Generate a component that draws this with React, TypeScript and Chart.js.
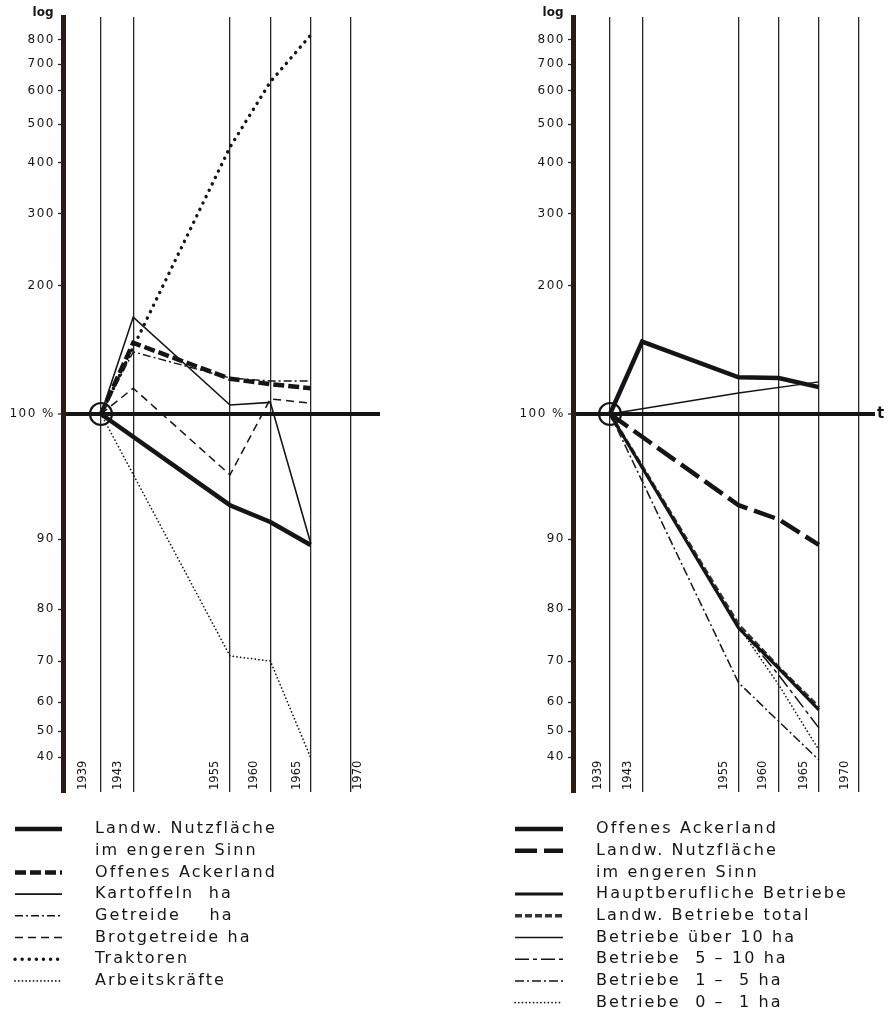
import React, { useEffect, useRef } from 'react';
import { Chart, registerables } from 'chart.js';

Chart.register(...registerables);

// ---------------- data ----------------
const YEARS = [1939, 1943, 1955, 1960, 1965];
const GRID_YEARS = [1939, 1943, 1955, 1960, 1965, 1970];
const GRID_YEAR_LABELS = ['1939', '1943', '1955', '1960', '1965', '1970'];

// hand-drawn index axis: tick values and their axis position (units above the 100 % line)
const Y_TICKS = [40, 50, 60, 70, 80, 90, 100, 200, 300, 400, 500, 600, 700, 800];
const Y_TICK_LABELS = ['40', '50', '60', '70', '80', '90', '100 %', '200', '300', '400', '500', '600', '700', '800'];
const Y_TICK_POS = [-343, -317, -288, -247, -195, -125, 0, 128, 200, 251, 290, 323, 350, 374];

// left panel (index 1939 = 100)
const L_NUTZFLAECHE = [100, null, 92.6, 91.3, 89.1];
const L_ACKERLAND = [100, 147, 121, 117.5, 115];
const L_KARTOFFELN = [100, 169, 105, 106.5, 89.4];
const L_GETREIDE = [100, 140, 121.5, 119.6, 119.6];
const L_BROTGETREIDE = [100, 115, 95, 108.5, 106];
const L_TRAKTOREN = [100, null, 438, 632, 822];
const L_ARBEITSKRAEFTE = [100, null, 70.9, 70, 39.8];

// right panel (index 1939 = 100)
const R_ACKERLAND = [100, 148, 122, 121.5, 115.7];
const R_NUTZFLAECHE = [100, null, 92.6, 91.5, 89.1];
const R_HAUPTBERUF = [100, null, 76.2, 68.1, 57.1];
const R_TOTAL = [100, null, 76.8, 68.3, 58.0];
const R_UEBER10 = [100, null, 112, null, 119];
const R_5_10 = [100, null, 76.5, 66.4, 51];
const R_1_5 = [100, null, 64.5, null, 39];
const R_0_1 = [100, null, 76.5, 64, 42.5];

// ---------------- helpers ----------------
const INK = '#151515';
const AXIS = '#2a1b14';
const GRID = '#2e241f';
const FONT = '"DejaVu Sans", Verdana, sans-serif';

function toU(v: number): number {
  const n = Y_TICKS.length;
  let i = 0;
  if (v <= Y_TICKS[0]) i = 0;
  else if (v >= Y_TICKS[n - 1]) i = n - 2;
  else {
    while (i < n - 2 && v > Y_TICKS[i + 1]) i++;
  }
  const a = Y_TICKS[i];
  const b = Y_TICKS[i + 1];
  const t = Math.log(v / a) / Math.log(b / a);
  return Y_TICK_POS[i] + t * (Y_TICK_POS[i + 1] - Y_TICK_POS[i]);
}

type Series = {
  lines: string[];
  data: (number | null)[];
  width: number;
  dash: number[];
  cap?: string;
  color?: string;
};

const LEFT_SERIES: Series[] = [
  { lines: ['Landw. Nutzfläche', 'im engeren Sinn'], data: L_NUTZFLAECHE, width: 4.5, dash: [] },
  { lines: ['Offenes Ackerland'], data: L_ACKERLAND, width: 4.5, dash: [11, 4] },
  { lines: ['Kartoffeln  ha'], data: L_KARTOFFELN, width: 1.6, dash: [] },
  { lines: ['Getreide    ha'], data: L_GETREIDE, width: 1.4, dash: [8, 3, 2, 3] },
  { lines: ['Brotgetreide ha'], data: L_BROTGETREIDE, width: 1.5, dash: [8, 5] },
  { lines: ['Traktoren'], data: L_TRAKTOREN, width: 3.4, dash: [0.1, 7], cap: 'round' },
  { lines: ['Arbeitskräfte'], data: L_ARBEITSKRAEFTE, width: 1.7, dash: [0.1, 3.6], cap: 'round' },
];

const RIGHT_SERIES: Series[] = [
  { lines: ['Offenes Ackerland'], data: R_ACKERLAND, width: 4.5, dash: [] },
  { lines: ['Landw. Nutzfläche', 'im engeren Sinn'], data: R_NUTZFLAECHE, width: 4.5, dash: [22, 7] },
  { lines: ['Hauptberufliche Betriebe'], data: R_HAUPTBERUF, width: 3, dash: [] },
  { lines: ['Landw. Betriebe total'], data: R_TOTAL, width: 3.5, dash: [7, 3], color: '#333333' },
  { lines: ['Betriebe über 10 ha'], data: R_UEBER10, width: 1.5, dash: [] },
  { lines: ['Betriebe  5 \u2013 10 ha'], data: R_5_10, width: 1.5, dash: [14, 4, 4, 4] },
  { lines: ['Betriebe  1 \u2013  5 ha'], data: R_1_5, width: 1.5, dash: [9, 3, 2, 3] },
  { lines: ['Betriebe  0 \u2013  1 ha'], data: R_0_1, width: 1.7, dash: [0.1, 3.6], cap: 'round' },
];

const decorPlugin = {
  id: 'decor',
  beforeDraw(chart: any) {
    chart.ctx.letterSpacing = '1.5px';
  },
  afterDraw(chart: any, _args: any, opts: any) {
    const ctx = chart.ctx;
    const area = chart.chartArea;
    const xs = chart.scales.x;
    ctx.save();
    ctx.fillStyle = INK;
    // year labels, rotated, inside the plot at the bottom
    ctx.font = '11.5px ' + FONT;
    ctx.letterSpacing = '0px';
    GRID_YEARS.forEach((yr, i) => {
      const px = xs.getPixelForValue(yr) + opts.yearOffsets[i];
      ctx.save();
      ctx.translate(px, area.bottom - 2);
      ctx.rotate(-Math.PI / 2);
      ctx.textAlign = 'left';
      ctx.textBaseline = 'middle';
      ctx.fillText(GRID_YEAR_LABELS[i], 0, 0);
      ctx.restore();
    });
    // "log" above the axis
    ctx.font = 'bold 12px ' + FONT;
    ctx.textAlign = 'center';
    ctx.textBaseline = 'middle';
    ctx.fillText('log', area.left - 20, 13);
    if (opts.showT) {
      ctx.font = 'bold 15px ' + FONT;
      ctx.textAlign = 'left';
      ctx.fillText('t', area.right + 2, chart.scales.y.getPixelForValue(toU(100)));
    }
    // legend built from the datasets
    const lg = opts.legend;
    let row = 0;
    chart.data.datasets.forEach((ds: any) => {
      if (!ds.legendLines) return;
      const y = lg.top + row * lg.step;
      ctx.save();
      ctx.strokeStyle = ds.borderColor;
      ctx.lineWidth = ds.borderWidth;
      ctx.lineCap = ds.borderCapStyle || 'butt';
      ctx.setLineDash(ds.borderDash || []);
      ctx.beginPath();
      ctx.moveTo(lg.x0, y);
      ctx.lineTo(lg.x1, y);
      ctx.stroke();
      ctx.restore();
      ctx.font = '16px ' + FONT;
      ctx.letterSpacing = '2.1px';
      ctx.textAlign = 'left';
      ctx.textBaseline = 'middle';
      ds.legendLines.forEach((t: string, k: number) => {
        ctx.fillText(t, lg.tx, y + k * lg.step);
      });
      row += ds.legendLines.length;
    });
    ctx.restore();
  },
};

type PanelCfg = {
  series: Series[];
  xMin: number;
  xMax: number;
  axisWidth: number;
  padRight: number;
  yearOffsets: number[];
  showT: boolean;
  legend: { top: number; step: number; x0: number; x1: number; tx: number };
};

function buildConfig(p: PanelCfg): any {
  const datasets: any[] = p.series.map((s) => ({
    label: s.lines.join(' '),
    legendLines: s.lines,
    data: YEARS.map((x, i) => ({ x, y: s.data[i] == null ? null : toU(s.data[i] as number) })),
    borderColor: s.color || INK,
    borderWidth: s.width,
    borderDash: s.dash,
    borderCapStyle: s.cap || 'butt',
    borderJoinStyle: 'miter',
    pointRadius: 0,
    spanGaps: true,
    tension: 0,
    fill: false,
  }));
  datasets.push({
    label: 'origin',
    data: [{ x: YEARS[0], y: toU(100) }],
    showLine: false,
    pointRadius: 11,
    pointBorderWidth: 2.2,
    pointBorderColor: INK,
    pointBackgroundColor: 'rgba(0,0,0,0)',
  });
  return {
    type: 'line',
    data: { datasets },
    options: {
      responsive: false,
      animation: false,
      devicePixelRatio: 1,
      events: [],
      layout: { padding: { top: 17, bottom: 230, left: 0, right: p.padRight } },
      plugins: {
        legend: { display: false },
        tooltip: { enabled: false },
        decor: { yearOffsets: p.yearOffsets, showT: p.showT, legend: p.legend },
      },
      scales: {
        x: {
          type: 'linear',
          min: p.xMin,
          max: p.xMax,
          afterBuildTicks: (s: any) => {
            s.ticks = GRID_YEARS.map((v) => ({ value: v }));
          },
          afterFit: (s: any) => {
            s.height = 0;
          },
          ticks: { display: false },
          grid: { color: GRID, lineWidth: 1.3, drawTicks: false },
          border: { display: false },
        },
        y: {
          type: 'linear',
          min: -378,
          max: 397,
          afterBuildTicks: (s: any) => {
            s.ticks = Y_TICKS.map((v) => ({ value: toU(v) }));
          },
          afterFit: (s: any) => {
            s.width = p.axisWidth;
          },
          ticks: {
            autoSkip: false,
            padding: 3,
            color: INK,
            font: { family: FONT, size: 12 },
            callback: (_v: any, i: number) => Y_TICK_LABELS[i],
          },
          grid: {
            color: (c: any) => (c.tick && Math.abs(c.tick.value) < 0.01 ? INK : 'rgba(0,0,0,0)'),
            lineWidth: (c: any) => (c.tick && Math.abs(c.tick.value) < 0.01 ? 4 : 1),
            drawTicks: true,
            tickLength: 5,
            tickColor: '#222',
            tickWidth: 1.3,
          },
          border: { display: true, color: AXIS, width: 5 },
        },
      },
    },
    plugins: [decorPlugin],
  };
}

const LEFT_CFG: PanelCfg = {
  series: LEFT_SERIES,
  xMin: 1934.29,
  xMax: 1973.6,
  axisWidth: 63,
  padRight: 65,
  yearOffsets: [-18, -15, -15, -16, -14, 7],
  showT: false,
  legend: { top: 829, step: 21.7, x0: 15, x1: 62, tx: 95 },
};

const RIGHT_CFG: PanelCfg = {
  series: RIGHT_SERIES,
  xMin: 1934.39,
  xMax: 1971.99,
  axisWidth: 71,
  padRight: 15,
  yearOffsets: [-12, -14, -15, -16, -15, -14],
  showT: true,
  legend: { top: 829, step: 21.7, x0: 13, x1: 61, tx: 94 },
};

function Panel({ cfg, left, width }: { cfg: PanelCfg; left: number; width: number }) {
  const ref = useRef<HTMLCanvasElement | null>(null);
  useEffect(() => {
    if (!ref.current) return;
    const chart = new Chart(ref.current, buildConfig(cfg));
    return () => chart.destroy();
  }, [cfg]);
  return (
    <canvas
      ref={ref}
      width={width}
      height={1022}
      style={{ position: 'absolute', left, top: 0, width, height: 1022, display: 'block' }}
    />
  );
}

export default function App() {
  return (
    <div
      style={{
        position: 'absolute',
        left: 0,
        top: 0,
        width: 890,
        height: 1022,
        background: '#ffffff',
        overflow: 'hidden',
      }}
    >
      <Panel cfg={LEFT_CFG} left={0} width={445} />
      <Panel cfg={RIGHT_CFG} left={502} width={388} />
    </div>
  );
}
